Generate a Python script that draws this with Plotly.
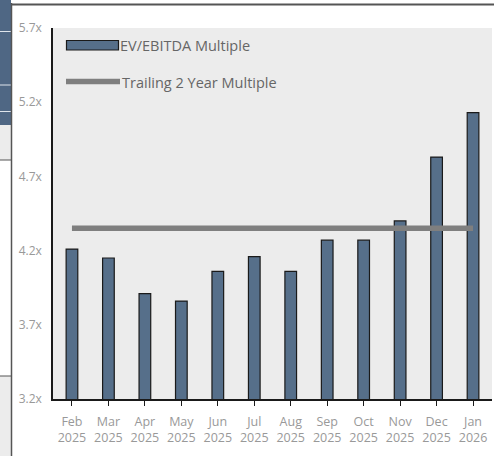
import plotly.graph_objects as go

months = ["Feb", "Mar", "Apr", "May", "Jun", "Jul", "Aug", "Sep", "Oct", "Nov", "Dec", "Jan"]
years = ["2025"] * 11 + ["2026"]
ev_ebitda = [4.21, 4.15, 3.91, 3.86, 4.06, 4.16, 4.06, 4.27, 4.27, 4.40, 4.83, 5.13]
trailing_2y = [4.35] * 12
y_ticks = [3.2, 3.7, 4.2, 4.7, 5.2, 5.7]
y_tick_labels = ["3.2x", "3.7x", "4.2x", "4.7x", "5.2x", "5.7x"]
legend_names = ["EV/EBITDA Multiple", "Trailing 2 Year Multiple"]

x_labels = [f"{m}<br>{y}" for m, y in zip(months, years)]
xi = list(range(len(months)))

W, H = 494, 456
L, R, T, B = 53, 2, 28, 57
pw, ph = W - L - R, H - T - B

def px(xp):
    return (xp - L) / pw

def py(yp):
    return (H - B - yp) / ph

BAR = "#566f8a"
LINE = "#7f7f7f"

fig = go.Figure()
fig.add_trace(go.Bar(x=xi, y=ev_ebitda, width=0.32, marker=dict(color=BAR, line=dict(color="#1a1a1a", width=1.2)),
                     name=legend_names[0], showlegend=False))
fig.add_trace(go.Scatter(x=xi, y=trailing_2y, mode="lines", line=dict(color=LINE, width=5.5),
                         name=legend_names[1], showlegend=False))

shapes = []
# surrounding page fragments
shapes.append(dict(type="rect", xref="paper", yref="paper", x0=px(0), x1=px(11), y0=py(125), y1=py(0),
                   fillcolor="#4f6784", line=dict(width=0), layer="above"))
for yy in [31.5, 85, 111.5]:
    shapes.append(dict(type="line", xref="paper", yref="paper", x0=px(0), x1=px(11), y0=py(yy), y1=py(yy),
                       line=dict(color="#dfe5ec", width=1), layer="above"))
shapes.append(dict(type="rect", xref="paper", yref="paper", x0=px(0), x1=px(11), y0=py(160), y1=py(125),
                   fillcolor="#ececec", line=dict(width=0), layer="above"))
shapes.append(dict(type="line", xref="paper", yref="paper", x0=px(0), x1=px(11), y0=py(160), y1=py(160),
                   line=dict(color="#555555", width=1), layer="above"))
shapes.append(dict(type="rect", xref="paper", yref="paper", x0=px(0), x1=px(11), y0=py(456), y1=py(376),
                   fillcolor="#ececec", line=dict(width=0), layer="above"))
shapes.append(dict(type="line", xref="paper", yref="paper", x0=px(0), x1=px(11), y0=py(376), y1=py(376),
                   line=dict(color="#555555", width=1), layer="above"))
shapes.append(dict(type="line", xref="paper", yref="paper", x0=px(11.5), x1=px(11.5), y0=py(456), y1=py(3),
                   line=dict(color="#555555", width=1.5), layer="above"))
shapes.append(dict(type="line", xref="paper", yref="paper", x0=px(11), x1=px(494), y0=py(4.5), y1=py(4.5),
                   line=dict(color="#555555", width=2), layer="above"))
# legend
shapes.append(dict(type="rect", xref="paper", yref="paper", x0=px(66.5), x1=px(118.5), y0=py(50), y1=py(40.5),
                   fillcolor=BAR, line=dict(color="#1a1a1a", width=1.2), layer="above"))
shapes.append(dict(type="line", xref="paper", yref="paper", x0=px(66), x1=px(120), y0=py(81.5), y1=py(81.5),
                   line=dict(color=LINE, width=5.5), layer="above"))

annotations = [
    dict(xref="paper", yref="paper", x=px(118), y=py(45.5), text=legend_names[0], showarrow=False,
         xanchor="left", yanchor="middle", font=dict(family="Open Sans", size=14.5, color="#666666")),
    dict(xref="paper", yref="paper", x=px(120), y=py(82), text=legend_names[1], showarrow=False,
         xanchor="left", yanchor="middle", font=dict(family="Open Sans", size=14.5, color="#666666")),
]

fig.update_layout(
    width=W, height=H,
    margin=dict(l=L, r=R, t=T, b=B, pad=0),
    paper_bgcolor="white", plot_bgcolor="#ececec",
    font=dict(family="Open Sans", size=12, color="#999999"),
    shapes=shapes, annotations=annotations,
    bargap=0.68,
    xaxis=dict(range=[-0.52, 11.52], tickmode="array", tickvals=xi, ticktext=x_labels,
               showgrid=False, zeroline=False, showline=True, linecolor="#1a1a1a", linewidth=1.5,
               ticks="outside", ticklen=5, tickcolor="#1a1a1a", tickwidth=1.2, ticklabelstandoff=5,
               tickfont=dict(family="Open Sans", size=12.5, color="#999999")),
    yaxis=dict(range=[3.2, 5.7], tickmode="array", tickvals=y_ticks, ticktext=y_tick_labels,
               showgrid=False, zeroline=False, showline=True, linecolor="#1a1a1a", linewidth=1.5,
               ticks="", ticklabelstandoff=7,
               tickfont=dict(family="Open Sans", size=12, color="#999999")),
)

fig.write_html(
    "out.html",
    config={"displayModeBar": False},
    post_script="document.body.style.margin='0';document.body.style.overflow='hidden';",
)
